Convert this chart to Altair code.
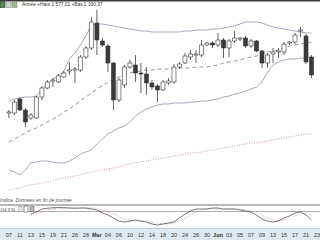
import altair as alt
import pandas as pd

# ---- data ----
idx = list(range(56))
open_ = [1467, 1467, 1481, 1470, 1462, 1462, 1483, 1492, 1499, 1498, 1503, 1509, 1510, 1510, 1523, 1532,
         1557, 1539, 1534, 1517, 1480, 1495, 1513, 1515, 1507, 1506, 1497, 1494, 1490, 1497, 1498, 1513,
         1517, 1523, 1525, 1525, 1535, 1537, 1535, 1540, 1532, 1539, 1541, 1542, 1534, 1539, 1529, 1517,
         1526, 1528, 1528, 1537, 1538, 1549, 1544, 1523]
close_ = [1468, 1478, 1470, 1458, 1465, 1483, 1492, 1498, 1500, 1504, 1507, 1510, 1511, 1523, 1532, 1558,
          1540, 1535, 1517, 1480, 1500, 1513, 1517, 1507, 1506, 1497, 1493, 1490, 1498, 1499, 1513, 1516,
          1524, 1526, 1526, 1535, 1537, 1535, 1540, 1532, 1539, 1542, 1542, 1534, 1539, 1529, 1517, 1525,
          1528, 1529, 1536, 1538, 1545, 1550, 1518, 1505]
high_ = [1470, 1480, 1483, 1472, 1467, 1484, 1494, 1500, 1502, 1506, 1509, 1518, 1513, 1525, 1534, 1563,
         1570, 1542, 1536, 1518, 1502, 1515, 1520, 1525, 1517, 1513, 1500, 1496, 1500, 1502, 1516, 1518,
         1527, 1530, 1530, 1540, 1538, 1539, 1547, 1542, 1541, 1549, 1543, 1544, 1541, 1540, 1530, 1527,
         1532, 1532, 1538, 1539, 1547, 1553, 1546, 1525]
low_ = [1462, 1465, 1469, 1453, 1460, 1461, 1480, 1491, 1493, 1497, 1502, 1505, 1497, 1508, 1521, 1530,
        1525, 1533, 1508, 1470, 1478, 1492, 1511, 1498, 1487, 1485, 1490, 1478, 1489, 1495, 1496, 1511,
        1516, 1520, 1517, 1523, 1534, 1532, 1533, 1522, 1523, 1537, 1539, 1532, 1532, 1528, 1512, 1512,
        1517, 1522, 1525, 1535, 1536, 1543, 1516, 1502]
upper_band = [1479, 1481, 1482, 1483, 1483, 1484, 1490, 1496, 1501, 1504, 1509, 1521, 1527, 1535, 1544, 1555,
              1556, 1556, 1555, 1554, 1553, 1552, 1551, 1550, 1549, 1549, 1548, 1548, 1548, 1548, 1548, 1548,
              1549, 1549, 1550, 1550, 1550, 1551, 1551, 1552, 1553, 1554, 1556, 1558, 1558, 1558, 1557, 1555,
              1553, 1552, 1551, 1550, 1549, 1548, 1547, 1547]
mid_band = [1438, 1441, 1444, 1447, 1450, 1452, 1455, 1458, 1461, 1464, 1468, 1471, 1475, 1479, 1483, 1487,
            1491, 1494, 1498, 1501, 1503, 1505, 1507, 1508, 1509, 1510, 1510, 1511, 1511, 1511, 1512, 1512,
            1512, 1512, 1513, 1513, 1513, 1514, 1515, 1517, 1518, 1519, 1520, 1522, 1523, 1524, 1526, 1528,
            1529, 1530, 1532, 1534, 1535, 1536, 1537, 1538]
lower_band = [1410, 1408, 1405, 1410, 1417, 1418, 1419, 1419, 1418, 1417, 1417, 1419, 1422, 1426, 1428, 1430,
              1436, 1441, 1446, 1449, 1452, 1454, 1458, 1464, 1468, 1471, 1473, 1475, 1476, 1476, 1477, 1477,
              1477, 1478, 1478, 1479, 1479, 1480, 1481, 1483, 1484, 1486, 1487, 1489, 1491, 1493, 1498, 1508,
              1515, 1518, 1520, 1521, 1521, 1522, 1522, 1523]
ma_long = [1390, 1391, 1392, 1394, 1395, 1396, 1397, 1398, 1399, 1401, 1402, 1403, 1404, 1405, 1407, 1408,
           1409, 1410, 1411, 1412, 1413, 1415, 1416, 1417, 1418, 1419, 1420, 1421, 1422, 1423, 1424, 1425,
           1426, 1427, 1427, 1428, 1429, 1430, 1431, 1432, 1433, 1434, 1435, 1436, 1437, 1437, 1438, 1439,
           1440, 1441, 1442, 1443, 1444, 1445, 1446, 1446]
stoch_k = [None, None, None, None,
           60, 68, 80, 83, 85, 86, 85, 84, 83, 84, 84, 80, 76, 64, 56, 44, 32, 28, 32, 36, 32, 28,
           20, 16, 20, 24, 28, 44, 60, 72, 80, 80, 80, 84, 84, 80, 80, 80, 76, 72, 68, 56, 40, 32,
           28, 32, 44, 52, 64, 68, 56, 36]
stoch_d = [None, None, None, None,
           56, 60, 68, 76, 80, 83, 84, 84, 84, 84, 84, 84, 80, 76, 68, 60, 48, 40, 36, 32, 32, 32,
           28, 24, 20, 20, 24, 32, 44, 56, 68, 76, 80, 80, 80, 80, 80, 80, 80, 76, 72, 68, 56, 44,
           36, 32, 36, 44, 52, 60, 64, 56]
tick_idx = list(range(0, 57, 2))
tick_labels = ["07", "11", "13", "15", "19", "21", "26", "28", "Mar", "04", "06", "10", "12", "14", "18",
               "20", "24", "26", "30", "Jun", "03", "05", "07", "09", "13", "15", "17", "21", "23"]
stoch_level = [70]
header_text = "Année +Haut 1 577,01 +Bas 1 330,37"
footer_text = "Indice.  Données en fin de journée"
stoch_text = "(14 3 5)"

df = pd.DataFrame({"i": idx, "open": open_, "close": close_, "high": high_, "low": low_,
                   "upper": upper_band, "mid": mid_band, "lower": lower_band, "ma": ma_long,
                   "k": stoch_k, "d": stoch_d})
ticks = pd.DataFrame({"i": tick_idx, "lab": tick_labels})
one = pd.DataFrame({"a": [0]})
lev = pd.DataFrame({"lv": stoch_level})

W, H = 320, 240
FONT = "Liberation Sans"
xs = alt.Scale(domain=[-0.704, 55.63])
ps = alt.Scale(domain=[1380, 1580], range=[200, 0])
os_ = alt.Scale(domain=[0, 100], range=[229, 204])
X = alt.X("i:Q", scale=xs, axis=None)

base = alt.Chart(df)

def pline(field, **kw):
    return base.mark_line(clip=True, **kw).encode(x=X, y=alt.Y(f"{field}:Q", scale=ps, axis=None))

def oline(field, **kw):
    return base.mark_line(clip=True, **kw).encode(x=X, y=alt.Y(f"{field}:Q", scale=os_, axis=None))

def hrule(y, color, w):
    return alt.Chart(one).mark_rule(color=color, strokeWidth=w).encode(
        x=alt.value(0), x2=alt.value(W), y=alt.value(y))

def box(x, x2, y, y2, fill, stroke=None):
    kw = {"fill": fill}
    if stroke:
        kw.update(stroke=stroke, strokeWidth=0.6)
    return alt.Chart(one).mark_rect(**kw).encode(
        x=alt.value(x), x2=alt.value(x2), y=alt.value(y), y2=alt.value(y2))

axis_band = box(0, W, 229, 240, "#dce9f2")

ma = pline("ma", color="#d49a9a", strokeDash=[1, 1.5], strokeWidth=1)
up = pline("upper", color="#a49bb8", strokeWidth=0.9)
lo = pline("lower", color="#a49bb8", strokeWidth=0.9)
mid = pline("mid", color="#8c8c8c", strokeDash=[4, 3], strokeWidth=0.9)

wicks = base.mark_rule(color="#3a3a3a", strokeWidth=0.8, clip=True).encode(
    x=X, y=alt.Y("low:Q", scale=ps, axis=None), y2="high:Q")
bodies = base.mark_bar(size=4, stroke="#333333", strokeWidth=0.6, clip=True).encode(
    x=X, y=alt.Y("open:Q", scale=ps, axis=None), y2="close:Q",
    fill=alt.condition("datum.close >= datum.open", alt.value("white"), alt.value("#3a3a3a")))

kline = oline("k", color="#555555", strokeWidth=0.8)
dline = oline("d", color="#cf9a9a", strokeWidth=0.9, strokeDash=[1, 1.5])
level = alt.Chart(lev).mark_rule(color="#9a9a9a", strokeWidth=0.8).encode(
    x=alt.value(0), x2=alt.value(W), y=alt.Y("lv:Q", scale=os_, axis=None))

top_line = hrule(0.8, "#3c3c3c", 1.6)
panel_top = hrule(205, "#a0a0a0", 1.4)
panel_bot = hrule(228.5, "#b8c4cc", 0.8)

def label_layer(expr, weight):
    return alt.Chart(ticks).transform_filter(expr).mark_text(
        fontSize=5.5, font=FONT, color="#333333", baseline="middle", fontWeight=weight, clip=True
    ).encode(x=alt.X("i:Q", scale=xs, axis=None), y=alt.value(235), text="lab:N")

labels_num = label_layer("length(datum.lab) <= 2", "normal")
labels_mon = label_layer("length(datum.lab) > 2", "bold")

header = alt.Chart(one).mark_text(text=header_text, fontSize=4.8, font=FONT, color="#333333",
                                  align="left", baseline="middle").encode(
    x=alt.value(22), y=alt.value(4.5))
footer = alt.Chart(one).mark_text(text=footer_text, fontSize=4.8, font=FONT, color="#555555",
                                  align="left", baseline="middle", fontStyle="italic").encode(
    x=alt.value(0), y=alt.value(201))
stoch_lab = alt.Chart(one).mark_text(text=stoch_text, fontSize=4.2, font=FONT, color="#333333",
                                     align="left", baseline="middle").encode(
    x=alt.value(0.5), y=alt.value(209.5))

icons = [
    box(0, 5, 1.5, 7.5, "#5c8a4c", "#333333"),
    box(6, 11, 1.5, 7.5, "#cfd8c8", "#888888"),
    box(12, 17, 1.5, 7.5, "#9cc08a", "#888888"),
    box(19, 22, 206.5, 211.5, "#ffffff", "#777777"),
    box(24, 28, 206, 212, "#ffffff", "#555555"),
    box(30, 34, 206.5, 211.5, "#bbbbbb", "#666666"),
]

chart = alt.layer(
    axis_band, ma, up, lo, mid, wicks, bodies,
    panel_top, level, dline, kline, panel_bot, top_line,
    labels_num, labels_mon, header, footer, stoch_lab, *icons
).resolve_scale(y="independent").properties(
    width=W, height=H, padding=0, autosize=alt.AutoSizeParams(type="none"),
    background="white"
).configure_view(stroke=None)

chart.save("out.html", embed_options={"renderer": "svg", "actions": False})
